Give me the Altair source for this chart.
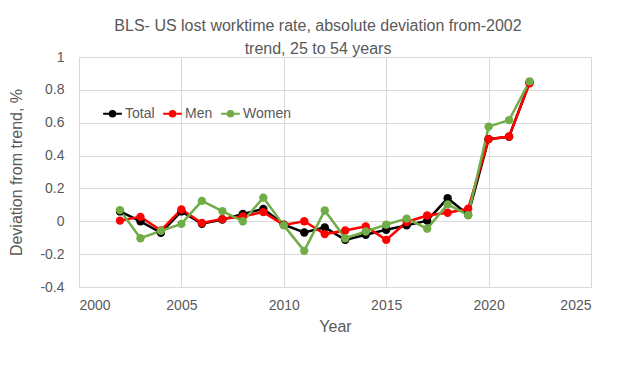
import altair as alt
import pandas as pd

years = list(range(2002, 2023))
total = [0.06, 0.0, -0.07, 0.06, -0.015, 0.01, 0.045, 0.075, -0.02, -0.068, -0.037, -0.113, -0.082, -0.052, -0.025, 0.004, 0.14, 0.04, 0.50, 0.515, 0.845]
men = [0.004, 0.027, -0.056, 0.072, -0.01, 0.014, 0.03, 0.056, -0.022, 0.0, -0.078, -0.056, -0.031, -0.113, -0.004, 0.035, 0.052, 0.076, 0.50, 0.516, 0.84]
women = [0.068, -0.103, -0.058, -0.016, 0.124, 0.062, 0.0, 0.144, -0.025, -0.18, 0.066, -0.103, -0.062, -0.02, 0.016, -0.045, 0.103, 0.037, 0.576, 0.616, 0.852]
series = ["Total", "Men", "Women"]
colors = ["#000000", "#FF0000", "#70AD47"]

rows = []
for name, vals in zip(series, [total, men, women]):
    for y, v in zip(years, vals):
        rows.append({"Year": y, "Value": v, "Series": name})
df = pd.DataFrame(rows)

font = "Liberation Sans"
grey = "#595959"

sym = "M-1,0L-0.3,0M0.3,0L1,0M-0.3,0A0.3,0.3 0 1,0 0.3,0A0.3,0.3 0 1,0 -0.3,0Z"

chart = alt.Chart(df).mark_line(
    strokeWidth=2.5,
    point=alt.OverlayMarkDef(filled=True, size=70),
).encode(
    x=alt.X("Year:Q", scale=alt.Scale(domain=[2000, 2025], nice=False),
            axis=alt.Axis(values=[2000, 2005, 2010, 2015, 2020, 2025], format="d",
                          title="Year", grid=True, labelPadding=11, titlePadding=6)),
    y=alt.Y("Value:Q", scale=alt.Scale(domain=[-0.4, 1], nice=False),
            axis=alt.Axis(values=[-0.4, -0.2, 0, 0.2, 0.4, 0.6, 0.8, 1], format="~g",
                          labelExpr="replace(datum.label, '\u2212', '-')",
                          title="Deviation from trend, %", labelPadding=15, titlePadding=15)),
    color=alt.Color("Series:N", scale=alt.Scale(domain=series, range=colors),
                    sort=series,
                    legend=alt.Legend(title=None, orient="none", legendX=23, legendY=46,
                                      direction="horizontal", symbolType=sym, symbolSize=350,
                                      symbolStrokeWidth=2, labelFontSize=14, labelColor=grey,
                                      labelFont=font, columnPadding=4, labelOffset=2)),
    order=alt.Order("Year:Q"),
).properties(
    width=512, height=230,
    padding={"left": 0, "top": 10, "right": 5, "bottom": 5},
    title=alt.TitleParams(["BLS- US lost worktime rate, absolute deviation from-2002",
                           "trend, 25 to 54 years"],
                          fontSize=16, font=font, color=grey, fontWeight="normal",
                          offset=-7, lineHeight=23, dx=-17),
).configure_axis(
    labelFont=font, labelFontSize=14, labelColor=grey,
    titleFont=font, titleFontSize=16, titleColor=grey, titleFontWeight="normal",
    gridColor="#d9d9d9", domain=False, ticks=False,
).configure_view(stroke="#d9d9d9")

chart.save("out.html", embed_options={"renderer": "svg", "actions": False})
